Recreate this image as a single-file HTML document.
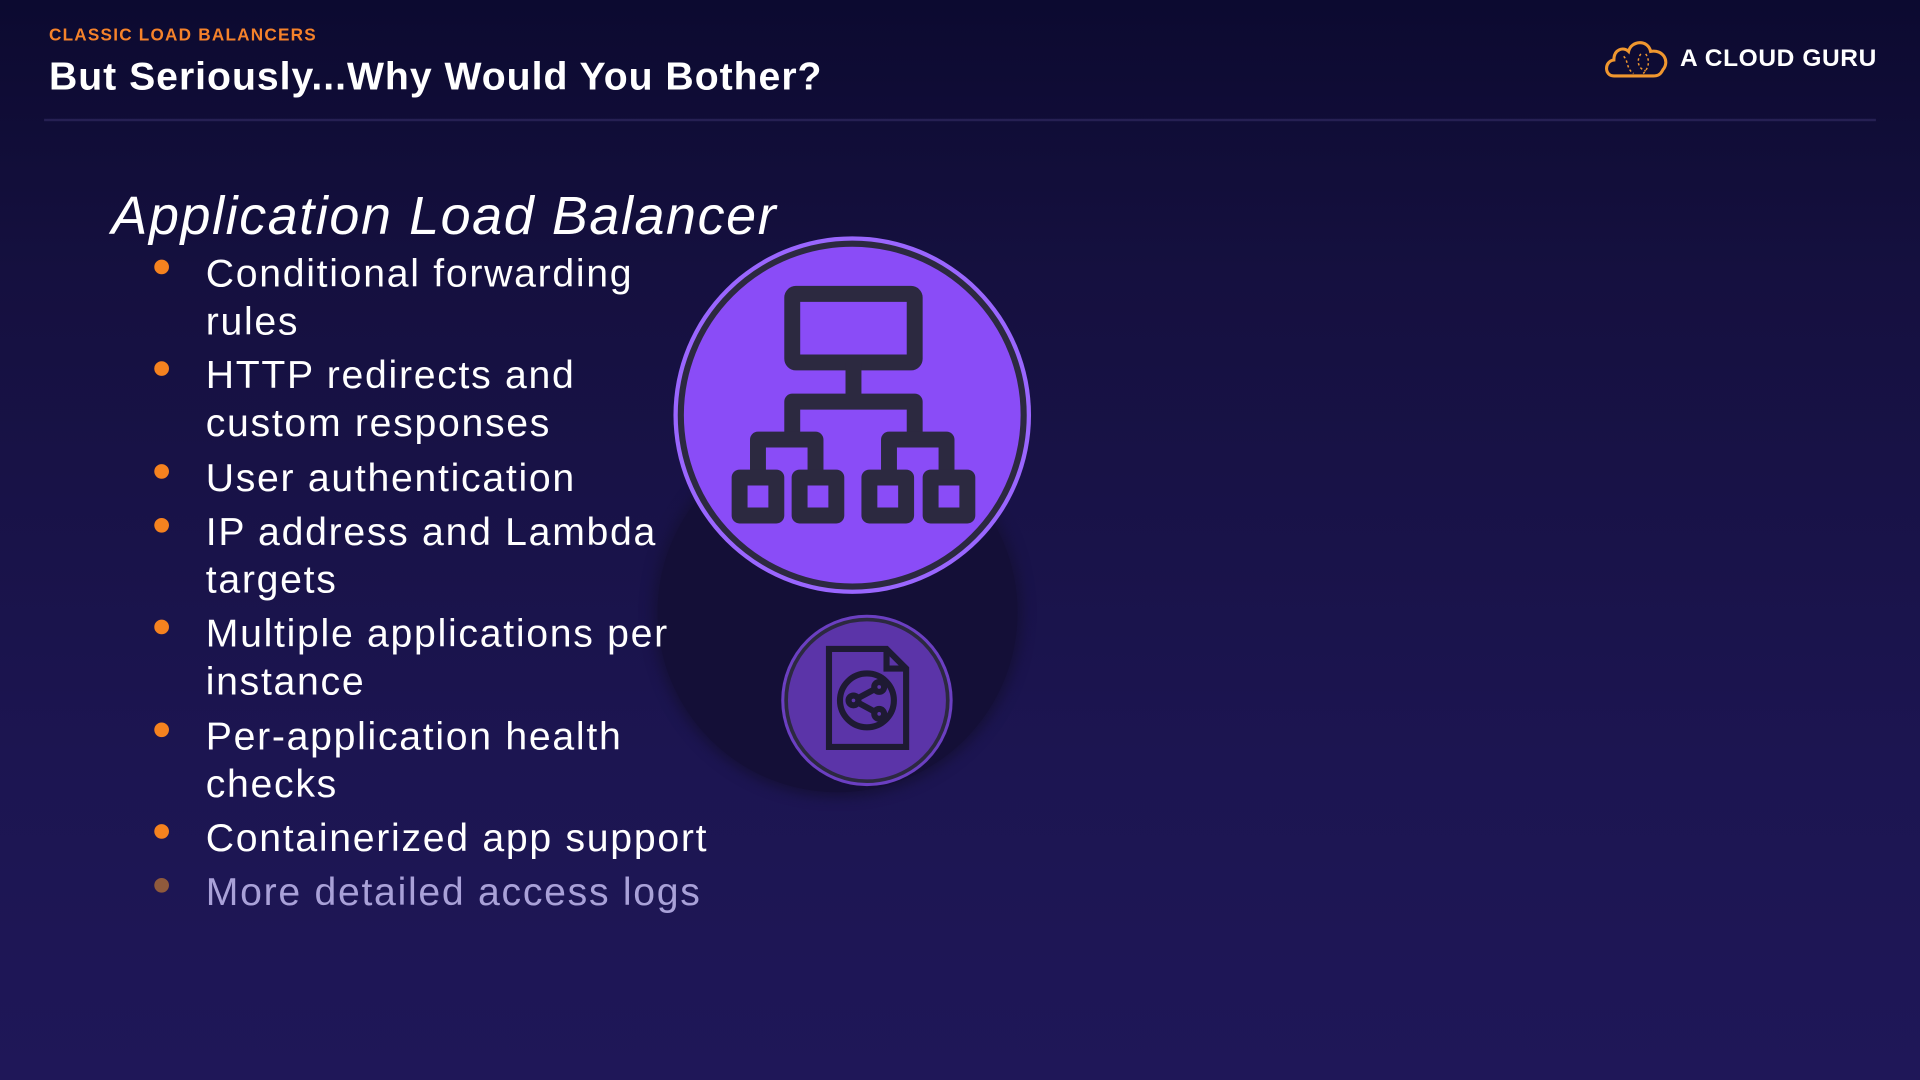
<!DOCTYPE html>
<html><head><meta charset="utf-8"><style>
html,body{margin:0;padding:0;width:1920px;height:1080px;overflow:hidden;background:#161144}
#s{position:absolute;left:0;top:0;width:1568px;height:882px;transform:scale(1.22449);transform-origin:0 0;
background:linear-gradient(180deg,#0c0a30 0%,#15103f 25%,#1c1551 70%,#1f1758 100%);font-family:"Liberation Sans",sans-serif;color:#fff;overflow:hidden}
.t{position:absolute;white-space:nowrap}
.li{position:absolute;left:168px;font-size:32px;line-height:39px;color:#fff;letter-spacing:1.4px;white-space:nowrap}
.d{position:absolute;left:126px;width:12px;height:12px;border-radius:50%;background:#f5821f}
</style></head><body><div id="s">
<div class="t" style="left:40px;top:20px;font-size:14px;font-weight:bold;color:#f5822a;letter-spacing:1px">CLASSIC LOAD BALANCERS</div>
<div class="t" style="left:40px;top:44px;font-size:32px;font-weight:bold;letter-spacing:0.8px">But Seriously...Why Would You Bother?</div>
<svg style="position:absolute;left:1308px;top:30px" width="58" height="36" viewBox="0 0 58 36"><path d="M10 32 C2 32 2 20 10 19 C10 10 18 8 22 12 C24 3 38 2 40 12 C50 10 56 20 50 27 C48 31 46 32 42 32 Z" fill="none" stroke="#f0972f" stroke-width="2.5"/><path d="M18 16 C22 20 20 26 26 30 M32 14 C28 20 30 26 36 28 M36 14 C40 20 38 26 34 30" stroke="#f0972f" stroke-width="1.2" stroke-dasharray="2 2" fill="none"/></svg>
<div class="t" style="left:1372px;top:37px;font-size:20px;font-weight:bold;letter-spacing:0.5px">A CLOUD GURU</div>
<div style="position:absolute;left:36px;top:97px;width:1496px;height:2px;background:#262053"></div>
<div class="t" style="left:91px;top:152px;font-size:44px;font-style:italic;letter-spacing:1.3px">Application Load Balancer</div>

<div style="position:absolute;left:537px;top:353px;width:294px;height:294px;border-radius:50%;background:#140f37;box-shadow:0 0 10px 4px #161139"></div>
<svg style="position:absolute;left:0;top:0" width="1568" height="882">
<circle cx="696" cy="339" r="146" fill="#9a66ff"/>
<circle cx="696" cy="339" r="140" fill="#8a4cf7" stroke="#2c2940" stroke-width="5"/>
<g fill="none" stroke="#2c2940" stroke-width="13" stroke-linejoin="round">
<rect x="647" y="240" width="100" height="56" rx="3"/>
<path d="M697 296 V328 M647 359 V328 H747 V359"/>
<path d="M619 385 V359 H666 V385 M726 385 V359 H773 V385"/>
<rect x="604" y="390" width="30" height="31"/><rect x="653" y="390" width="30" height="31"/>
<rect x="710" y="390" width="30" height="31"/><rect x="760" y="390" width="30" height="31"/>
</g>
<circle cx="708" cy="572" r="70" fill="#6b3fc2"/>
<circle cx="708" cy="572" r="66" fill="#5b34a8" stroke="#2c2940" stroke-width="3"/>
<g fill="none" stroke="#1e1a33" stroke-width="5">
<path d="M677 530 H724 L740 546 V610 H677 Z M724 530 V546 H740"/>
<circle cx="708" cy="572" r="22"/>
<circle cx="718" cy="561" r="4"/><circle cx="697" cy="572" r="4"/><circle cx="718" cy="583" r="4"/>
<path d="M701 570 L714 563 M701 574 L714 581"/>
</g>
</svg>

<div class="d" style="top:212px"></div><div class="li" style="top:204px">Conditional forwarding<br>rules</div>
<div class="d" style="top:295px"></div><div class="li" style="top:287px">HTTP redirects and<br>custom responses</div>
<div class="d" style="top:379px"></div><div class="li" style="top:371px">User authentication</div>
<div class="d" style="top:423px"></div><div class="li" style="top:415px">IP address and Lambda<br>targets</div>
<div class="d" style="top:506px"></div><div class="li" style="top:498px">Multiple applications per<br>instance</div>
<div class="d" style="top:590px"></div><div class="li" style="top:582px">Per-application health<br>checks</div>
<div class="d" style="top:673px"></div><div class="li" style="top:665px">Containerized app support</div>
<div class="d" style="top:717px;background:#8f5a3c"></div><div class="li" style="top:709px;color:#a9a1d8">More detailed access logs</div>
</div></body></html>
